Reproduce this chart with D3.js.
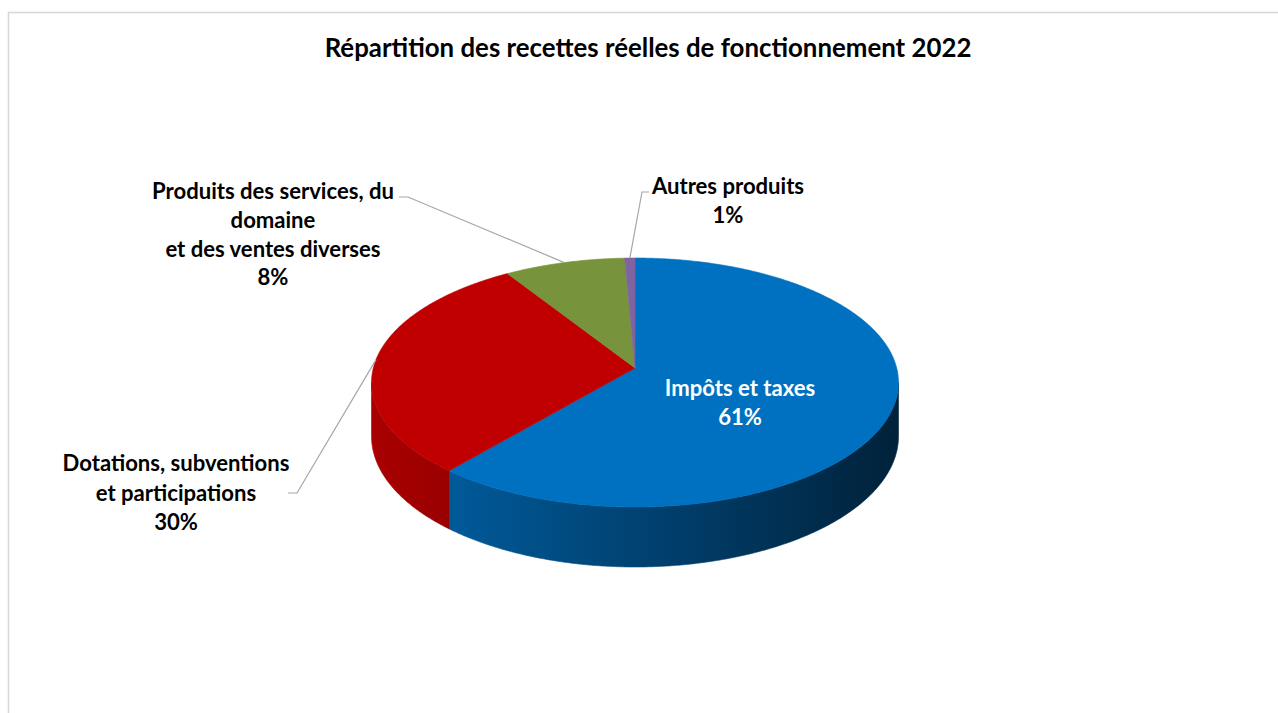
<!DOCTYPE html>
<html>
<head>
<meta charset="utf-8">
<script src="https://cdn.jsdelivr.net/npm/d3@7/dist/d3.min.js"></script>
<style>
  html, body { margin: 0; padding: 0; background: #fff; }
  svg { display: block; }
  text { font-family: Lato, "Open Sans", sans-serif; font-weight: 700; }
</style>
</head>
<body>
<svg id="chart" width="1278" height="713"></svg>
<script>
// ---- data ----
const title = "Répartition des recettes réelles de fonctionnement 2022";
const categories = [
  "Impôts et taxes",
  "Dotations, subventions et participations",
  "Produits des services, du domaine et des ventes diverses",
  "Autres produits"
];
const values = [61.2, 29.8, 8.3, 0.7];
const labelLines = [
  ["Impôts et taxes"],
  ["Dotations, subventions", "et participations"],
  ["Produits des services, du", "domaine", "et des ventes diverses"],
  ["Autres produits"]
];
const colors = ["#0070C0", "#C00000", "#77933C", "#8064A2"];

// ---- layout ----
const W = 1278, H = 713;
const cx = 635, cy = 368;      // projected centre of the pie
const a = 261.7, b = 122.8;    // radii of the projected disc
const k = 0.1165;              // perspective strength
const h0 = 53;                 // thickness at centre depth
const squeeze = 0.94;          // horizontal condensing of text

const svg = d3.select("#chart");
const defs = svg.append("defs");

svg.append("rect").attr("x", 8.5).attr("y", 12.5).attr("width", 1400).attr("height", 900)
  .attr("fill", "#fff").attr("stroke", "#d9d9d9").attr("stroke-width", 1.6);

const total = d3.sum(values);
const pct = v => Math.round(v / total * 100) + "%";
const color = d3.scaleOrdinal().domain(categories).range(colors);

const pie = d3.pie().sort(null).value(d => d.value).startAngle(0).endAngle(2 * Math.PI);
const arcs = pie(categories.map((c, i) => ({ name: c, value: values[i], lines: labelLines[i] })));

function proj(theta, drop) {
  const u = Math.sin(theta), v = -Math.cos(theta);
  const d = 1 - k * v;
  return [cx + a * u / d, cy + b * v / d + (drop || 0) / d];
}
function samples(s, e, n) {
  const r = [];
  const steps = Math.max(2, Math.ceil((e - s) / (Math.PI / 180) * n));
  for (let i = 0; i <= steps; i++) r.push(s + (e - s) * i / steps);
  return r;
}
const line = d3.line().curve(d3.curveLinear);

// silhouette angles
const t1 = Math.acos(-k), t2 = 2 * Math.PI - t1;

// side walls
const g = svg.append("g");
arcs.forEach((d, i) => {
  const lo = Math.max(d.startAngle, t1), hi = Math.min(d.endAngle, t2);
  if (hi <= lo) return;
  const base = d3.rgb(color(d.data.name));
  const gid = "wall" + i;
  const grad = defs.append("linearGradient").attr("id", gid)
    .attr("gradientUnits", "userSpaceOnUse")
    .attr("x1", cx - a).attr("x2", cx + a).attr("y1", 0).attr("y2", 0);
  [[0, 0.88], [0.5, 0.6], [1, 0.3]].forEach(([o, f]) => {
    grad.append("stop").attr("offset", o)
      .attr("stop-color", d3.rgb(base.r * f, base.g * f, base.b * f).formatHex());
  });
  const angs = samples(lo, hi, 2);
  const pts = angs.map(t => proj(t, 0)).concat(angs.slice().reverse().map(t => proj(t, h0)));
  g.append("path").attr("d", line(pts) + "Z")
    .attr("fill", `url(#${gid})`).attr("stroke", `url(#${gid})`).attr("stroke-width", 0.6);
});

// top faces
arcs.forEach(d => {
  const angs = samples(d.startAngle, d.endAngle, 2);
  const pts = [[cx, cy]].concat(angs.map(t => proj(t, 0)));
  g.append("path").attr("d", line(pts) + "Z")
    .attr("fill", color(d.data.name)).attr("stroke", color(d.data.name)).attr("stroke-width", 0.6);
});

// ---- text ----
function condense(sel, x) {
  sel.attr("transform", `translate(${x},0) scale(${squeeze},1) translate(${-x},0)`);
}
const titleSel = svg.append("text").attr("x", 648).attr("y", 47)
  .attr("text-anchor", "middle").attr("dominant-baseline", "central")
  .attr("font-size", 22).attr("fill", "#000").text(title);
const tw = titleSel.node().getComputedTextLength();
titleSel.attr("font-size", 22 * 647 / (tw * squeeze));
condense(titleSel, 648);

// measure label font size
const probe = svg.append("text").attr("font-size", 18).text("Dotations, subventions");
const labelFs = 18 * 227 / (probe.node().getComputedTextLength() * squeeze);
probe.remove();

// label layout
const labelLayout = [
  { x: 740, y: 387, step: 28.5, fill: "#fff" },
  { x: 176, y: 462, step: 29.5, fill: "#000", lx: 288, ly: 493, ex: 297 },
  { x: 273, y: 190, step: 28.7, fill: "#000", lx: 399, ly: 197, ex: 408 },
  { x: 728, y: 185, step: 29, fill: "#000", lx: 649, ly: 192, ex: 642 }
];

arcs.forEach((d, i) => {
  const L = labelLayout[i];
  const lines = d.data.lines.concat([pct(d.data.value)]);
  const t = svg.append("text").attr("text-anchor", "middle").attr("font-size", labelFs)
    .attr("fill", L.fill);
  lines.forEach((s, j) => {
    t.append("tspan").attr("x", L.x).attr("y", L.y + j * L.step)
      .attr("dominant-baseline", "central").text(s);
  });
  condense(t, L.x);
  if (L.lx !== undefined) {
    const mid = (d.startAngle + d.endAngle) / 2;
    const p = proj(mid, 0);
    svg.append("path").attr("d", line([[L.lx, L.ly], [L.ex, L.ly], p]))
      .attr("fill", "none").attr("stroke", "#a6a6a6").attr("stroke-width", 1.2);
  }
});
</script>
</body>
</html>
